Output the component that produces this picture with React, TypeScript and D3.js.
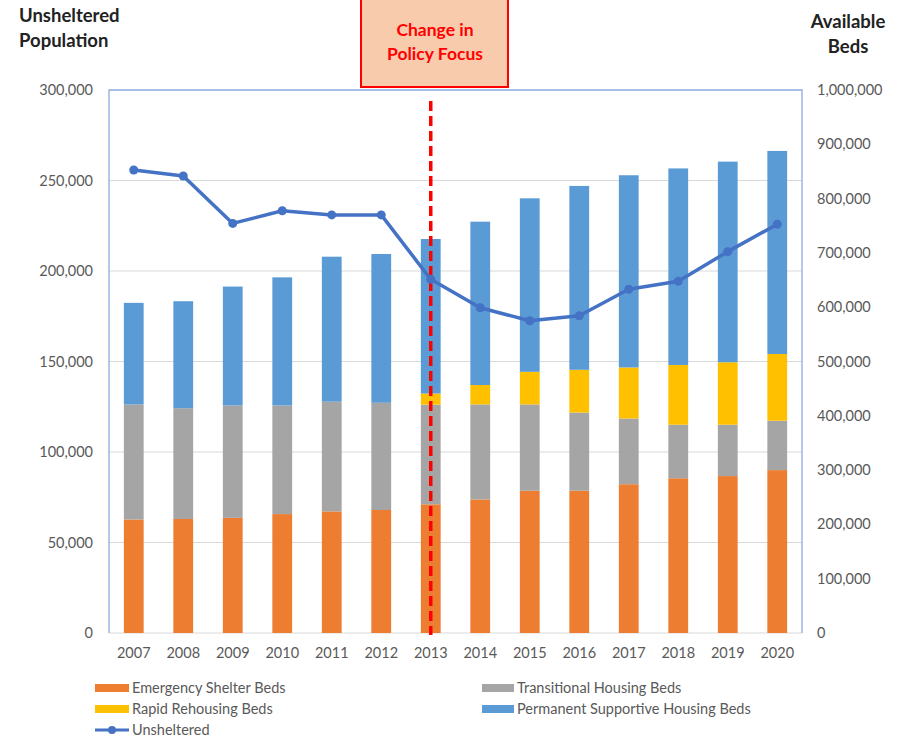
import React from "react";
import * as d3 from "d3";

const years = ["2007","2008","2009","2010","2011","2012","2013","2014","2015","2016","2017","2018","2019","2020"];
const emergency = [209000,210000,212000,219000,224000,226500,237000,246000,262000,262000,274000,285000,289000,300000];
const transitional = [212000,204000,207000,200000,202000,197500,183500,175000,159000,144000,121000,98600,94600,91000];
const rapid = [0,0,0,0,0,0,20500,35700,60000,78700,94000,110000,115000,122800];
const permanent = [187000,197000,219000,236000,267000,274000,284600,300800,319500,338600,354000,362000,369500,374000];
const unsheltered = [255800,252500,226300,233300,231000,231000,195400,179700,172500,175300,189900,194300,210700,225800];
const leftTicks = [0,50000,100000,150000,200000,250000,300000];
const rightTicks = [0,100000,200000,300000,400000,500000,600000,700000,800000,900000,1000000];

const seriesNames = ["Emergency Shelter Beds","Transitional Housing Beds","Rapid Rehousing Beds","Permanent Supportive Housing Beds"];
const seriesColors = ["#ED7D31","#A5A5A5","#FFC000","#5B9BD5"];
const lineColor = "#4472C4";

export default function App() {
  const W = 904, H = 741;
  const left = 109, right = 802, top = 90, bottom = 633;
  const x = d3.scaleBand<string>().domain(years).range([left, right]).paddingInner(0.6).paddingOuter(0.3);
  const yL = d3.scaleLinear().domain([0, 300000]).range([bottom, top]);
  const yR = d3.scaleLinear().domain([0, 1000000]).range([bottom, top]);
  const fmt = d3.format(",");

  const table = years.map((y, i) => ({ year: y, e: emergency[i], t: transitional[i], r: rapid[i], p: permanent[i] }));
  const stacked = d3.stack<any>().keys(["e","t","r","p"])(table);

  const cx = (y: string) => (x(y) as number) + x.bandwidth() / 2;
  const line = d3.line<number>().x((_, i) => cx(years[i])).y(d => yL(d));
  const font = "Lato, 'Open Sans', sans-serif";
  const xPolicy = cx("2013");

  return (
    <svg width={W} height={H} style={{ position: "absolute", left: 0, top: 0, background: "#fff" }} fontFamily={font}>
      {/* gridlines */}
      {leftTicks.slice(1, -1).map(t => (
        <line key={t} x1={left} x2={right} y1={yL(t)} y2={yL(t)} stroke="#D9D9D9" strokeWidth={1} />
      ))}
      <line x1={left} x2={right} y1={bottom} y2={bottom} stroke="#D9D9D9" strokeWidth={1} />
      {/* frame */}
      <path d={`M${left},${bottom}V${top}H${right}V${bottom}`} fill="none" stroke="#8FAADC" strokeWidth={1.3} />
      {/* bars */}
      {stacked.map((s, si) => (
        <g key={si} fill={seriesColors[si]}>
          {s.map((d, i) => (
            <rect key={i} x={x(years[i])} width={x.bandwidth()} y={yR(d[1])} height={Math.max(0, yR(d[0]) - yR(d[1]))} />
          ))}
        </g>
      ))}
      {/* policy line */}
      <line x1={xPolicy} x2={xPolicy} y1={101} y2={635} stroke="#FF0000" strokeWidth={3.5} strokeDasharray="10,5" />
      {/* unsheltered line */}
      <path d={line(unsheltered) as string} fill="none" stroke={lineColor} strokeWidth={3.5} strokeLinejoin="round" />
      {unsheltered.map((v, i) => (
        <circle key={i} cx={cx(years[i])} cy={yL(v)} r={4.5} fill={lineColor} />
      ))}
      {/* left ticks */}
      {leftTicks.map(t => (
        <text key={t} x={93} y={yL(t)} dy="0.35em" textAnchor="end" fontSize={14.5} fill="#595959">{fmt(t)}</text>
      ))}
      {/* right ticks */}
      {rightTicks.map(t => (
        <text key={t} x={817} y={yR(t)} dy="0.35em" textAnchor="start" fontSize={14.5} fill="#595959">{fmt(t)}</text>
      ))}
      {/* x labels */}
      {years.map(y => (
        <text key={y} x={cx(y)} y={653} dy="0.35em" textAnchor="middle" fontSize={14.5} fill="#595959">{y}</text>
      ))}
      {/* axis titles */}
      <text x={19} y={22} fontSize={18.5} fontWeight="bold" fill="#222">Unsheltered</text>
      <text x={19} y={47} fontSize={18.5} fontWeight="bold" fill="#222">Population</text>
      <text x={848} y={28} textAnchor="middle" fontSize={18.5} fontWeight="bold" fill="#222">Available</text>
      <text x={848} y={53} textAnchor="middle" fontSize={18.5} fontWeight="bold" fill="#222">Beds</text>
      {/* policy box */}
      <rect x={361} y={-3} width={147} height={90} fill="#F8CBAD" stroke="#FF0000" strokeWidth={2} />
      <text x={435} y={36} textAnchor="middle" fontSize={17.5} fontWeight="bold" fill="#FF0000">Change in</text>
      <text x={435} y={60} textAnchor="middle" fontSize={17.5} fontWeight="bold" fill="#FF0000">Policy Focus</text>
      {/* legend */}
      {[0, 2].map((si, r) => (
        <g key={si}>
          <rect x={95} y={684 + r * 21} width={34} height={8} fill={seriesColors[si]} />
          <text x={132} y={688 + r * 21} dy="0.35em" fontSize={14.5} fill="#595959">{seriesNames[si]}</text>
        </g>
      ))}
      {[1, 3].map((si, r) => (
        <g key={si}>
          <rect x={482} y={684 + r * 21} width={32} height={8} fill={seriesColors[si]} />
          <text x={517} y={688 + r * 21} dy="0.35em" fontSize={14.5} fill="#595959">{seriesNames[si]}</text>
        </g>
      ))}
      <line x1={95} x2={129} y1={730} y2={730} stroke={lineColor} strokeWidth={3} />
      <circle cx={112} cy={730} r={4} fill={lineColor} />
      <text x={132} y={730} dy="0.35em" fontSize={14.5} fill="#595959">Unsheltered</text>
    </svg>
  );
}
